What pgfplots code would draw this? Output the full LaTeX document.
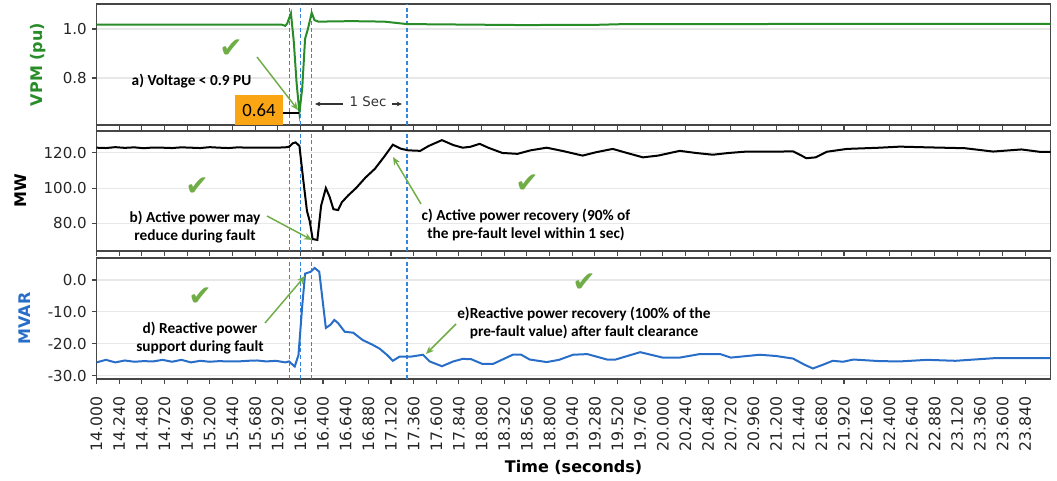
\documentclass[border=0pt]{standalone}
\usepackage{fontspec}
\setmainfont{DejaVu Sans}
\newfontfamily\annfont{Carlito}
\usepackage{pgfplots}
\usepackage{pgfplotstable}
\pgfplotsset{compat=1.18}
\usetikzlibrary{arrows.meta}

\definecolor{vgreen}{RGB}{40,140,40}
\definecolor{mblue}{RGB}{40,110,200}
\definecolor{agreen}{RGB}{112,173,71}
\definecolor{dashblue}{RGB}{50,135,220}
\definecolor{framegray}{RGB}{70,70,70}
\definecolor{gridgray}{RGB}{232,232,232}
\definecolor{boxorange}{RGB}{250,165,20}

\pgfplotstableread{
t v
14.00 1.018
15.50 1.018
15.96 1.018
16.00 1.013
16.02 1.022
16.06 1.064
16.09 0.95
16.12 0.78
16.15 0.658
16.18 0.76
16.21 0.96
16.24 1.00
16.28 1.066
16.31 1.036
16.35 1.030
16.70 1.032
17.05 1.030
17.29 1.020
18.50 1.016
19.30 1.017
19.60 1.020
24.11 1.021
}\vpm

\pgfplotstableread{
t p
14.00 123.0
14.10 122.8
14.20 123.3
14.30 122.9
14.40 123.2
14.50 122.7
14.60 123.1
14.70 123.0
14.80 122.8
14.90 123.2
15.00 123.0
15.10 122.8
15.20 123.3
15.30 123.0
15.40 122.8
15.50 123.2
15.60 123.0
15.70 123.0
15.80 123.1
15.90 123.0
16.00 123.2
16.04 123.5
16.08 125.5
16.11 126.0
16.15 124.0
16.19 105.0
16.23 87.0
16.26 81.0
16.29 71.0
16.34 70.5
16.38 90.0
16.43 100.0
16.47 95.0
16.51 88.0
16.56 87.5
16.60 92.0
16.67 96.0
16.75 100.0
16.85 106.0
16.95 111.0
17.05 118.0
17.14 124.7
17.22 122.5
17.30 121.5
17.43 121.2
17.52 124.0
17.66 127.3
17.78 124.5
17.88 123.0
17.96 123.5
18.06 125.2
18.15 123.0
18.30 120.0
18.46 119.5
18.60 121.5
18.77 123.0
18.95 121.0
19.15 118.5
19.30 120.5
19.47 122.3
19.62 120.0
19.79 117.5
19.95 118.5
20.18 121.2
20.35 120.0
20.53 119.0
20.70 120.0
20.89 120.8
21.10 120.7
21.38 120.9
21.46 118.8
21.52 117.0
21.62 117.5
21.74 120.7
21.95 122.3
22.30 123.0
22.51 123.6
22.80 123.2
23.20 122.7
23.50 120.8
23.80 122.0
24.00 120.6
24.11 120.6
}\mw

\pgfplotstableread{
t q
14.00 -25.8
14.10 -25.0
14.20 -25.8
14.30 -25.2
14.40 -25.6
14.50 -25.4
14.60 -25.5
14.70 -25.0
14.80 -25.6
14.90 -25.0
15.00 -25.8
15.10 -25.3
15.20 -25.6
15.30 -25.4
15.40 -25.5
15.50 -25.5
15.60 -25.3
15.70 -25.2
15.80 -25.5
15.90 -25.3
16.00 -25.8
16.04 -25.5
16.10 -27.1
16.14 -23.5
16.18 -8.0
16.21 2.0
16.27 2.6
16.31 3.8
16.36 2.6
16.43 -15.0
16.48 -14.0
16.52 -12.5
16.56 -13.5
16.63 -16.2
16.72 -16.5
16.82 -18.8
16.92 -20.2
17.00 -21.5
17.08 -23.5
17.14 -25.3
17.21 -24.0
17.33 -24.0
17.46 -23.4
17.53 -25.5
17.66 -27.0
17.78 -25.5
17.88 -24.7
17.97 -24.8
18.09 -26.3
18.20 -26.3
18.33 -24.5
18.41 -23.4
18.50 -23.4
18.59 -24.9
18.77 -25.7
18.90 -25.0
19.05 -23.4
19.20 -23.2
19.41 -24.9
19.50 -24.9
19.76 -22.6
20.00 -24.3
20.18 -24.3
20.39 -23.2
20.61 -23.2
20.72 -24.3
21.03 -23.4
21.20 -23.8
21.38 -24.6
21.50 -26.5
21.59 -27.7
21.70 -26.5
21.80 -25.3
21.91 -25.6
22.02 -24.9
22.30 -25.4
22.51 -25.5
22.80 -25.0
23.10 -25.3
23.50 -24.5
24.11 -24.5
}\mvar

% fault / recovery markers
\newcommand{\faultlines}{%
  \foreach \xx in {16.04,16.16,16.28,17.29}{%
    \edef\tmp{\noexpand\draw[draw=dashblue, line width=0.8pt, dash pattern=on 3pt off 2pt]
      ({axis cs:\xx,0}|-{rel axis cs:0,0}) -- ({axis cs:\xx,0}|-{rel axis cs:0,1});}\tmp}}

\pgfplotsset{
  panel/.style={
    scale only axis, width=715.65pt,
    xmin=14, xmax=24.11,
    xtick={14.00,14.24,...,23.90},
    xtick pos=bottom, ytick pos=left, tick align=outside,
    major tick length=3.75pt,
    ymajorgrids, grid style={gridgray, line width=0.8pt},
    axis line style={framegray, line width=0.9pt},
    every tick/.style={framegray, line width=0.8pt},
    tick label style={font=\fontsize{11.3}{13}\selectfont, text=black!85},
    /pgf/number format/assume math mode=true,
    yticklabel style={/pgf/number format/.cd, fixed, fixed zerofill, precision=1},
    xticklabel style={rotate=90, anchor=east, xshift=-5.5pt, font=\fontsize{11.8}{13}\selectfont,
      /pgf/number format/.cd, fixed, fixed zerofill, precision=3},
    ylabel style={font=\bfseries\fontsize{12}{14}\selectfont, yshift=6pt},
  }
}

\begin{document}
\begin{tikzpicture}
\path[use as bounding box] (0,0) rectangle (792.75pt,-360.75pt);

\begin{axis}[panel, at={(72.375pt,-3pt)}, anchor=north west, height=90.75pt,
  ymin=0.608, ymax=1.102, ytick={0.8,1.0}, xticklabels={},
  ylabel={VPM (pu)}, ylabel style={text=vgreen}]
\faultlines
\addplot[vgreen, line width=1.5pt, no marks] table[x=t, y=v] {\vpm};
\end{axis}

\begin{axis}[panel, at={(72.375pt,-98.25pt)}, anchor=north west, height=90pt,
  ymin=64.2, ymax=132.5, ytick={80,100,120}, xticklabels={},
  ylabel={MW}, ylabel style={text=black}]
\faultlines
\addplot[black, line width=1.5pt, no marks] table[x=t, y=p] {\mw};
\end{axis}

\begin{axis}[panel, at={(72.375pt,-193.5pt)}, anchor=north west, height=90.75pt,
  ymin=-31.0, ymax=6.9, ytick={-30,-20,-10,0},
  ylabel={MVAR}, ylabel style={text=mblue},
  xlabel={Time (seconds)}, xlabel style={font=\bfseries\fontsize{12}{14}\selectfont}]
\faultlines
\addplot[mblue, line width=1.5pt, no marks] table[x=t, y=q] {\mvar};
\end{axis}

\begin{scope}[x=0.75pt, y=-0.75pt]
  % check marks
  \foreach \p in {(231,49),(197,187),(527,184),(200,297),(584,283)}
    \node[text=agreen, font=\fontsize{21}{21}\selectfont] at \p {✔};
  % annotation texts
  \tikzset{ann/.style={align=center, font=\annfont\bfseries\fontsize{11.5}{13.5}\selectfont, inner sep=0pt}}
  \node[ann] at (191.5,81) {a) Voltage < 0.9 PU};
  \node[ann] at (195,227) {b) Active power may\\reduce during fault};
  \node[ann] at (526,225) {c) Active power recovery (90\% of\\the pre-fault level within 1 sec)};
  \node[ann] at (200,338) {d) Reactive power\\support during fault};
  \node[ann] at (584,323.5) {e)Reactive power recovery (100\% of the\\pre-fault value) after fault clearance};
  % annotation arrows
  \tikzset{aarr/.style={agreen, line width=1.1pt, -{Stealth[length=6pt,width=5pt]}}}
  \draw[aarr] (257,57) -- (298,110);
  \draw[aarr] (267,216) -- (312,240);
  \draw[aarr] (421,204) -- (393,157);
  \draw[aarr] (265,323) -- (305,276);
  \draw[aarr] (456,324) -- (426,354);
  % 0.64 box
  \fill[boxorange] (235,95) rectangle (283,125);
  \node[font=\annfont\fontsize{14}{14}\selectfont, inner sep=0pt] at (259,110) {0.64};
  \draw[black, line width=0.8pt] (283,113) -- (299,113);
  % 1 Sec
  \draw[black!80, line width=0.8pt, -{Stealth[length=4pt,width=3.5pt]}] (343,104) -- (315,104);
  \node[font=\fontsize{10}{12}\selectfont, text=black!80, inner sep=0pt] at (368,102) {1 Sec};
  \draw[black!80, line width=0.8pt, -{Stealth[length=4pt,width=3.5pt]}] (392,104) -- (402,104);
\end{scope}
\end{tikzpicture}
\end{document}
